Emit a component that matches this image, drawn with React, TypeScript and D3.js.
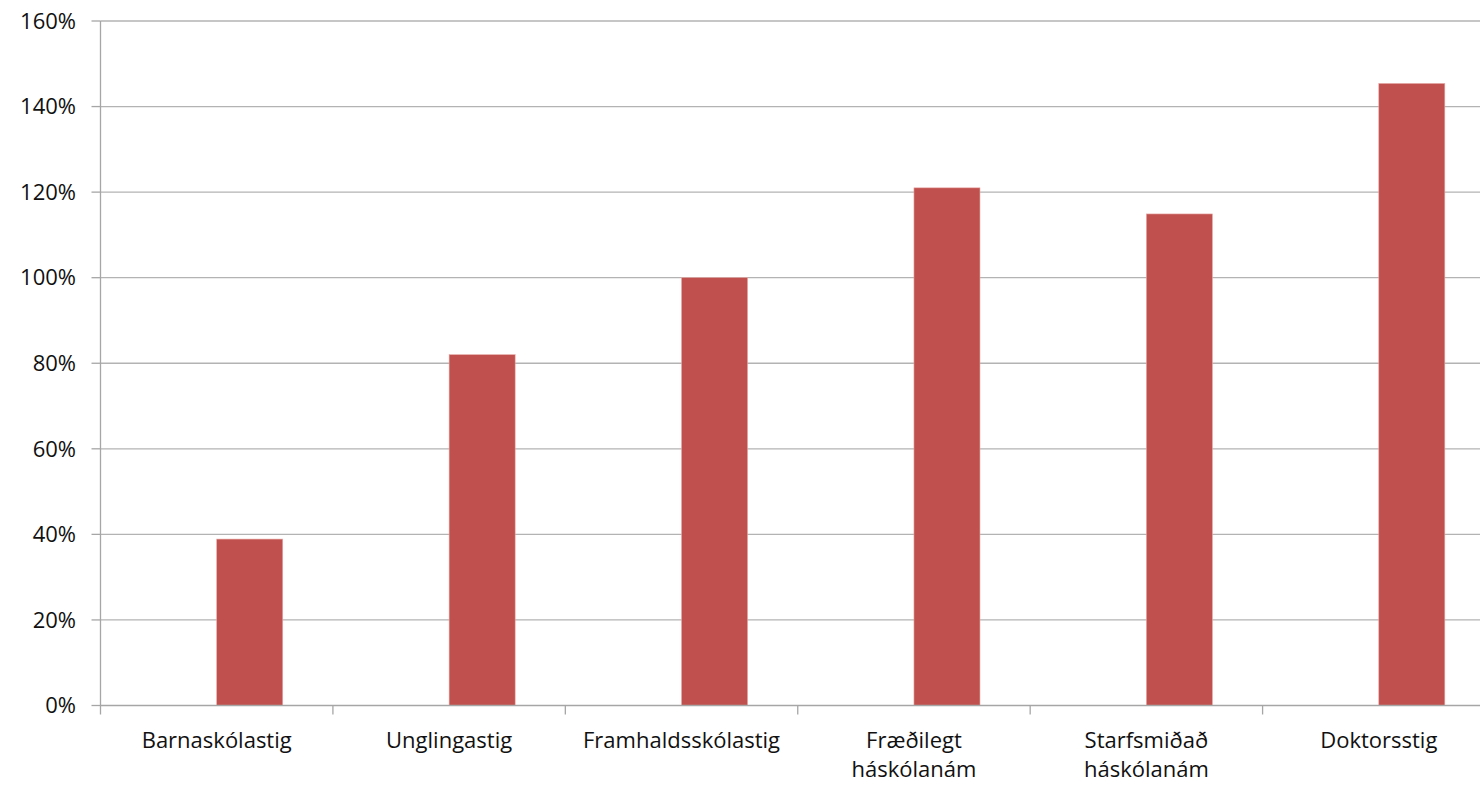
import { useEffect, useRef } from "react";
import * as d3 from "d3";

// menntunarstig -> hlutfall
const categories = [
  "Barnaskólastig",
  "Unglingastig",
  "Framhaldsskólastig",
  "Fræðilegt háskólanám",
  "Starfsmiðað háskólanám",
  "Doktorsstig",
];
const labelLines = [
  ["Barnaskólastig"],
  ["Unglingastig"],
  ["Framhaldsskólastig"],
  ["Fræðilegt", "háskólanám"],
  ["Starfsmiðað", "háskólanám"],
  ["Doktorsstig"],
];
const values = [38.9, 82.0, 100.0, 121.0, 114.9, 145.4];
const yTicks = [0, 20, 40, 60, 80, 100, 120, 140, 160];

const W = 1480;
const H = 785;

export default function App() {
  const ref = useRef<SVGSVGElement | null>(null);

  useEffect(() => {
    document.body.style.margin = "0";
    if (!ref.current) return;
    const svg = d3.select(ref.current);
    svg.selectAll("*").remove();

    const left = 100.5;
    const right = 1495;
    const top = 21;
    const bottom = 705.5;
    const font = "'Open Sans', 'Liberation Sans', sans-serif";

    const x = d3.scaleBand<string>().domain(categories).range([left, right]).paddingInner(0).paddingOuter(0);
    // tvær raðir í hverjum flokki, sú fyrri er tóm (eins og í Excel)
    const xs = d3.scaleBand<string>().domain(["a", "b"]).range([0, x.bandwidth()]).paddingInner(0).paddingOuter(0.76);
    const y = d3.scaleLinear().domain([0, 160]).range([bottom, top]);

    const g = svg.append("g");

    // gridlines
    g.selectAll("line.grid")
      .data(yTicks.filter((t) => t > 0))
      .enter()
      .append("line")
      .attr("x1", left)
      .attr("x2", W)
      .attr("y1", (d) => y(d))
      .attr("y2", (d) => y(d))
      .attr("stroke", "#b3b3b3")
      .attr("stroke-width", 1.3);

    // bars
    g.selectAll("rect.bar")
      .data(values)
      .enter()
      .append("rect")
      .attr("x", (_, i) => x(categories[i])! + xs("b")!)
      .attr("width", xs.bandwidth())
      .attr("y", (d) => y(d))
      .attr("height", (d) => bottom - y(d))
      .attr("fill", "#c0504d")
      .attr("stroke", "#e6a8a6")
      .attr("stroke-width", 0.6);

    // y axis line + ticks
    g.append("line")
      .attr("x1", left)
      .attr("x2", left)
      .attr("y1", top)
      .attr("y2", bottom + 9)
      .attr("stroke", "#a6a6a6")
      .attr("stroke-width", 1.3);
    g.selectAll("line.ytick")
      .data(yTicks)
      .enter()
      .append("line")
      .attr("x1", left - 9)
      .attr("x2", left)
      .attr("y1", (d) => y(d))
      .attr("y2", (d) => y(d))
      .attr("stroke", "#a6a6a6")
      .attr("stroke-width", 1.3);
    g.selectAll("text.ylab")
      .data(yTicks)
      .enter()
      .append("text")
      .attr("x", 76)
      .attr("y", (d) => y(d))
      .attr("dy", "0.35em")
      .attr("text-anchor", "end")
      .style("font-family", font)
      .style("font-size", "22px")
      .attr("fill", "#111")
      .text((d) => `${d}%`);

    // x axis
    g.append("line")
      .attr("x1", left)
      .attr("x2", W)
      .attr("y1", bottom)
      .attr("y2", bottom)
      .attr("stroke", "#a6a6a6")
      .attr("stroke-width", 1.3);
    g.selectAll("line.xtick")
      .data(categories.slice(1))
      .enter()
      .append("line")
      .attr("x1", (d) => x(d)!)
      .attr("x2", (d) => x(d)!)
      .attr("y1", bottom)
      .attr("y2", bottom + 9)
      .attr("stroke", "#a6a6a6")
      .attr("stroke-width", 1.3);

    const lab = g
      .selectAll("text.xlab")
      .data(categories)
      .enter()
      .append("text")
      .attr("text-anchor", "middle")
      .style("font-family", font)
      .style("font-size", "22px")
      .attr("fill", "#111");
    lab
      .selectAll("tspan")
      .data((_, i) => labelLines[i].map((t) => ({ t, i })))
      .enter()
      .append("tspan")
      .attr("x", (d) => x(categories[d.i])! + x.bandwidth() / 2)
      .attr("y", (_, j) => 748 + j * 29)
      .text((d) => d.t);
  }, []);

  return <svg ref={ref} width={W} height={H} style={{ display: "block", background: "#fff" }} />;
}
